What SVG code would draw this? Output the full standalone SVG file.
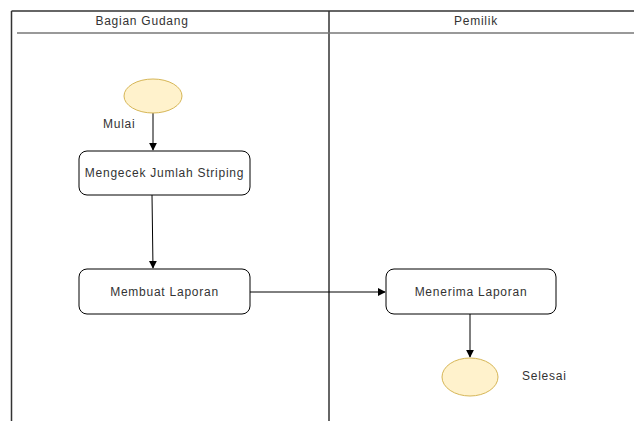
<svg xmlns="http://www.w3.org/2000/svg" width="634" height="421" viewBox="0 0 634 421">
<defs>
<marker id="arr" viewBox="0 0 10 10" refX="9" refY="5" markerWidth="8" markerHeight="8" markerUnits="userSpaceOnUse" orient="auto">
<path d="M0,0 L10,5 L0,10 Z" fill="#000"/>
</marker>
</defs>
<style>
text{font-family:"Liberation Sans",Arial,sans-serif;font-size:12px;fill:#333;letter-spacing:0.75px}
.box{fill:#fff;stroke:#000;stroke-width:1}
.circ{fill:#fff2cc;stroke:#d6b656;stroke-width:1}
.frame{stroke:#333;stroke-width:1.5;fill:none}
.conn{stroke:#000;stroke-width:1;fill:none;marker-end:url(#arr)}
</style>
<rect width="634" height="421" fill="#fff"/>
<g id="pool">
<line class="frame" x1="11.5" y1="11" x2="634" y2="11"/>
<line class="frame" x1="11.5" y1="11" x2="11.5" y2="421"/>
<line class="frame" x1="329" y1="11" x2="329" y2="421"/>
<line x1="17" y1="33" x2="634" y2="33" stroke="#777" stroke-width="1.5"/>
<text x="142" y="25" text-anchor="middle">Bagian Gudang</text>
<text x="476" y="25" text-anchor="middle">Pemilik</text>
</g>
<g id="connectors">
<line class="conn" x1="153" y1="113" x2="153" y2="150"/>
<line class="conn" x1="152" y1="195" x2="153" y2="268"/>
<line class="conn" x1="250" y1="292" x2="385" y2="292"/>
<line class="conn" x1="470" y1="314" x2="470" y2="357"/>
</g>
<g id="start">
<ellipse class="circ" cx="153" cy="96" rx="29" ry="17"/>
<text x="103" y="128">Mulai</text>
</g>
<g id="cek">
<rect class="box" x="79" y="151" width="171" height="44" rx="8"/>
<text x="164.5" y="177" text-anchor="middle">Mengecek Jumlah Striping</text>
</g>
<g id="buat">
<rect class="box" x="79" y="269" width="171" height="45" rx="8"/>
<text x="164.5" y="296" text-anchor="middle">Membuat Laporan</text>
</g>
<g id="terima">
<rect class="box" x="386" y="269" width="170" height="45" rx="8"/>
<text x="471" y="296" text-anchor="middle">Menerima Laporan</text>
</g>
<g id="end">
<ellipse class="circ" cx="470" cy="377" rx="28" ry="19"/>
<text x="522" y="380">Selesai</text>
</g>
</svg>
